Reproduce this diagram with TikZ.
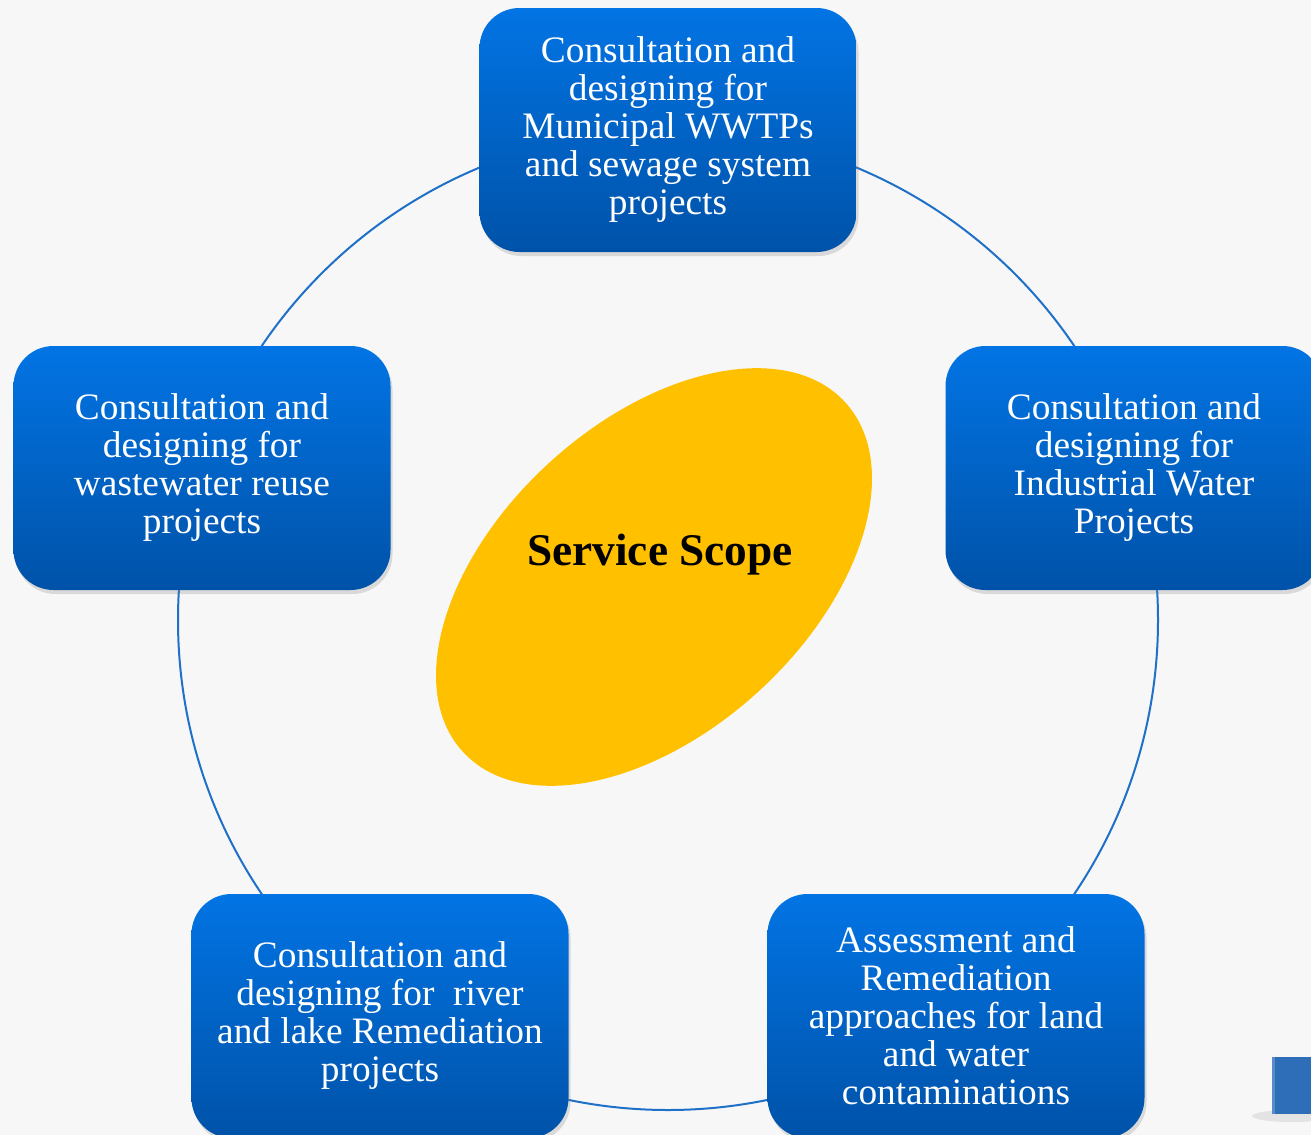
\documentclass[tikz,border=0pt]{standalone}
\usepackage{fontspec}
\setmainfont{Liberation Serif}
\usetikzlibrary{shadows}

\definecolor{pagebg}{RGB}{247,247,247}
\definecolor{ringblue}{RGB}{31,112,200}
\definecolor{boxtop}{RGB}{2,116,228}
\definecolor{boxbottom}{RGB}{0,82,168}
\definecolor{scopegold}{RGB}{255,192,0}
\definecolor{cubeblue}{RGB}{46,110,185}

\tikzset{
  scopebox/.style={rectangle, rounded corners=30pt, minimum width=282.75pt, minimum height=183pt,
    top color=boxtop, bottom color=boxbottom, draw=none, text=white, align=center,
    font=\fontsize{28}{28.5}\selectfont,
    drop shadow={opacity=0.25, shadow xshift=1.5pt, shadow yshift=-3pt}},
  scopetitle/.style={font=\bfseries\fontsize{34}{36}\selectfont, text=black},
}

\begin{document}
\begin{tikzpicture}[x=0.75pt,y=0.75pt,yscale=-1,xscale=1]
		\useasboundingbox (0,0) rectangle (1311,1135);
		\fill[pagebg] (0,0) rectangle (1311,1135);

		%ring behind the boxes
		\coordinate (hub) at (668,620);
		\draw[ringblue, line width=1.5] (hub) circle (490);

		%centre ellipse
		\fill[scopegold, rotate around={-42.4:(654,577)}] (654,577) ellipse [x radius=259, y radius=155];
		\node[scopetitle] (scope) at (660,555) {Service Scope};

		%service boxes
		\node[scopebox] (municipal) at (668,130) {Consultation and\\designing for\\Municipal WWTPs\\and sewage system\\projects};
		\node[scopebox] (industrial) at (1134,468) {Consultation and\\designing for\\Industrial Water\\Projects};
		\node[scopebox] (contam) at (956,1016) {Assessment and\\Remediation\\approaches for land\\and water\\contaminations};
		\node[scopebox] (river) at (380,1016) {Consultation and\\designing for\ \ river\\and lake Remediation\\projects};
		\node[scopebox] (reuse) at (202,468) {Consultation and\\designing for\\wastewater reuse\\projects};

		%corner cube
		\fill[black, opacity=0.08] (1292,1116) ellipse [x radius=40, y radius=6];
		\fill[cubeblue] (1272,1057) rectangle (1311,1114);
		\fill[cubeblue!80!white] (1272,1057) rectangle (1275,1114);
\end{tikzpicture}
\end{document}
